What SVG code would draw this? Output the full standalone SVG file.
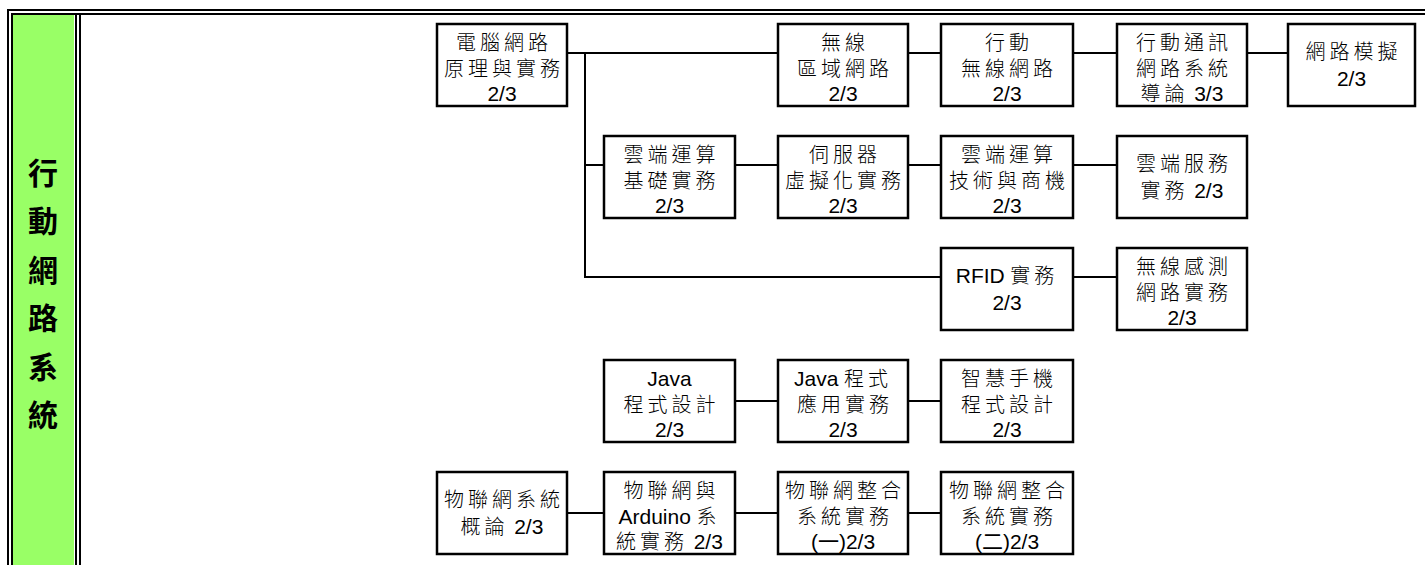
<svg xmlns="http://www.w3.org/2000/svg" width="1425" height="565" viewBox="0 0 1425 565">
<style>
.frame{stroke:#000;stroke-width:2;fill:none}
.box{fill:#fff;stroke:#000;stroke-width:2.5}
.conn{stroke:#000;stroke-width:2;fill:none}
.t{font-family:"Liberation Sans","Noto Sans CJK TC",sans-serif;font-size:20px;fill:#000;text-anchor:middle}
.c{letter-spacing:4px;font-weight:300}
.d{font-size:21px;letter-spacing:0;font-weight:normal}
.side{font-family:"Noto Sans CJK TC",sans-serif;font-size:30px;font-weight:bold;fill:#000;text-anchor:middle;dominant-baseline:central}
</style>
<rect width="1425" height="565" fill="#fff"/>
<g id="frame">
<rect x="12.5" y="15" width="61.5" height="550" fill="#99FF66"/>
<line class="frame" x1="7" y1="10" x2="1425" y2="10"/>
<line class="frame" x1="11" y1="14" x2="1425" y2="14"/>
<line class="frame" x1="8" y1="9" x2="8" y2="565"/>
<line class="frame" x1="12" y1="13" x2="12" y2="565" stroke-width="1.5"/>
<line class="frame" x1="76" y1="15" x2="76" y2="565"/>
<line class="frame" x1="80" y1="15" x2="80" y2="565"/>
</g>
<g id="side-title">
<text class="side" x="43" y="171">行</text>
<text class="side" x="43" y="219">動</text>
<text class="side" x="43" y="268">網</text>
<text class="side" x="43" y="316">路</text>
<text class="side" x="43" y="365">系</text>
<text class="side" x="43" y="413">統</text>
</g>
<g id="connectors">
<line class="conn" x1="567" y1="53" x2="778" y2="53"/>
<line class="conn" x1="585" y1="53" x2="585" y2="277"/>
<line class="conn" x1="584" y1="165" x2="604" y2="165"/>
<line class="conn" x1="584" y1="277" x2="941" y2="277"/>
<line class="conn" x1="908" y1="53" x2="941" y2="53"/>
<line class="conn" x1="1073" y1="53" x2="1117" y2="53"/>
<line class="conn" x1="1247" y1="53" x2="1288" y2="53"/>
<line class="conn" x1="735" y1="165" x2="778" y2="165"/>
<line class="conn" x1="908" y1="165" x2="941" y2="165"/>
<line class="conn" x1="1073" y1="165" x2="1117" y2="165"/>
<line class="conn" x1="1073" y1="277" x2="1117" y2="277"/>
<line class="conn" x1="735" y1="401" x2="778" y2="401"/>
<line class="conn" x1="908" y1="401" x2="941" y2="401"/>
<line class="conn" x1="567" y1="513" x2="604" y2="513"/>
<line class="conn" x1="735" y1="513" x2="778" y2="513"/>
<line class="conn" x1="908" y1="513" x2="941" y2="513"/>
</g>
<g id="n1"><rect class="box" x="437" y="24" width="130" height="82"/>
<text class="t c" x="504" y="49.5">電腦網路</text><text class="t c" x="504" y="76">原理與實務</text><text class="t d" x="502" y="101">2/3</text></g>
<g id="n2"><rect class="box" x="778" y="24" width="130" height="82"/>
<text class="t c" x="845" y="49.5">無線</text><text class="t c" x="845" y="76">區域網路</text><text class="t d" x="843" y="101">2/3</text></g>
<g id="n3"><rect class="box" x="941" y="24" width="132" height="82"/>
<text class="t c" x="1009" y="49.5">行動</text><text class="t c" x="1009" y="76">無線網路</text><text class="t d" x="1007" y="101">2/3</text></g>
<g id="n4"><rect class="box" x="1117" y="24" width="130" height="82"/>
<text class="t c" x="1184" y="49.5">行動通訊</text><text class="t c" x="1184" y="76">網路系統</text><text class="t" x="1182" y="101"><tspan class="c">導論</tspan> <tspan class="d">3/3</tspan></text></g>
<g id="n5"><rect class="box" x="1288" y="24" width="127" height="82"/>
<text class="t c" x="1353.5" y="59">網路模擬</text><text class="t d" x="1351.5" y="86">2/3</text></g>
<g id="n6"><rect class="box" x="604" y="136" width="131" height="82"/>
<text class="t c" x="671.5" y="161.5">雲端運算</text><text class="t c" x="671.5" y="188">基礎實務</text><text class="t d" x="669.5" y="213">2/3</text></g>
<g id="n7"><rect class="box" x="778" y="136" width="130" height="82"/>
<text class="t c" x="845" y="161.5">伺服器</text><text class="t c" x="845" y="188">虛擬化實務</text><text class="t d" x="843" y="213">2/3</text></g>
<g id="n8"><rect class="box" x="941" y="136" width="132" height="82"/>
<text class="t c" x="1009" y="161.5">雲端運算</text><text class="t c" x="1009" y="188">技術與商機</text><text class="t d" x="1007" y="213">2/3</text></g>
<g id="n9"><rect class="box" x="1117" y="136" width="130" height="82"/>
<text class="t c" x="1184" y="171">雲端服務</text><text class="t" x="1182" y="198"><tspan class="c">實務</tspan> <tspan class="d">2/3</tspan></text></g>
<g id="n10"><rect class="box" x="941" y="248" width="132" height="82"/>
<text class="t" x="1007" y="283"><tspan class="d">RFID</tspan> <tspan class="c">實務</tspan></text><text class="t d" x="1007" y="310">2/3</text></g>
<g id="n11"><rect class="box" x="1117" y="248" width="130" height="82"/>
<text class="t c" x="1184" y="273.5">無線感測</text><text class="t c" x="1184" y="300">網路實務</text><text class="t d" x="1182" y="325">2/3</text></g>
<g id="n12"><rect class="box" x="604" y="360" width="131" height="82"/>
<text class="t d" x="669.5" y="385.5">Java</text><text class="t c" x="671.5" y="412">程式設計</text><text class="t d" x="669.5" y="437">2/3</text></g>
<g id="n13"><rect class="box" x="778" y="360" width="130" height="82"/>
<text class="t" x="843" y="385.5"><tspan class="d">Java</tspan> <tspan class="c">程式</tspan></text><text class="t c" x="845" y="412">應用實務</text><text class="t d" x="843" y="437">2/3</text></g>
<g id="n14"><rect class="box" x="941" y="360" width="132" height="82"/>
<text class="t c" x="1009" y="385.5">智慧手機</text><text class="t c" x="1009" y="412">程式設計</text><text class="t d" x="1007" y="437">2/3</text></g>
<g id="n15"><rect class="box" x="437" y="472" width="130" height="82"/>
<text class="t c" x="504" y="507">物聯網系統</text><text class="t" x="502" y="534"><tspan class="c">概論</tspan> <tspan class="d">2/3</tspan></text></g>
<g id="n16"><rect class="box" x="604" y="472" width="131" height="82"/>
<text class="t c" x="671.5" y="497.5">物聯網與</text><text class="t" x="669.5" y="524"><tspan class="d">Arduino</tspan> <tspan class="c">系</tspan></text><text class="t" x="669.5" y="549"><tspan class="c">統實務</tspan> <tspan class="d">2/3</tspan></text></g>
<g id="n17"><rect class="box" x="778" y="472" width="130" height="82"/>
<text class="t c" x="845" y="497.5">物聯網整合</text><text class="t c" x="845" y="524">系統實務</text><text class="t d" x="843" y="549">(一)2/3</text></g>
<g id="n18"><rect class="box" x="941" y="472" width="132" height="82"/>
<text class="t c" x="1009" y="497.5">物聯網整合</text><text class="t c" x="1009" y="524">系統實務</text><text class="t d" x="1007" y="549">(二)2/3</text></g>
</svg>
